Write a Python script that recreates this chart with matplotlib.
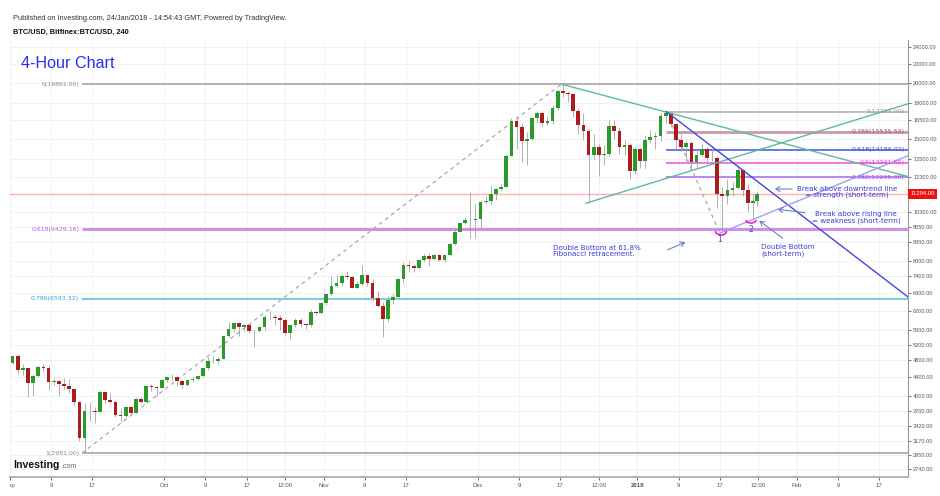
import numpy as np
import matplotlib
matplotlib.use("Agg")
import matplotlib.pyplot as plt
from matplotlib.transforms import Bbox, TransformedBbox, IdentityTransform, blended_transform_factory
from matplotlib.patches import Arc

# ---------------- data (daily candles, day 0 = 2017-09-01) ----------------
opens = [4740, 4900, 4580, 4620, 4280, 4420, 4640, 4620, 4300, 4320, 4250, 4210, 4150, 3880, 3220,
         3700, 3700, 3680, 4080, 3910, 3880, 3620, 3600, 3780, 3670, 3930, 3880, 4200, 4190, 4170,
         4340, 4400, 4400, 4310, 4220, 4330, 4370, 4440, 4610, 4780, 4780, 4830, 5430, 5640, 5830,
         5690, 5750, 5590, 5570, 5700, 6000, 6010, 5980, 5900, 5520, 5750, 5900, 5780, 5750, 6150, 6130,
         6450, 6740, 7030, 7160, 7400, 7380, 6960, 7100, 7450, 7140, 6620, 6360, 5950, 6560, 6640,
         7300, 7820, 7780, 7710, 8040, 8200, 8100, 8250, 8040, 8240, 8750, 9300, 9730, 9900, 9880,
         9950, 10850, 10900, 11300, 11600, 11700, 13700, 16400, 15900, 14800, 15000, 16700, 17100, 16300, 16400,
         17600, 19200, 19000, 18900, 17300, 16100, 15600, 13800, 14400, 13800, 13900, 16000, 15600, 14400, 14500, 12700,
         14200, 13400, 14900, 15100, 15200, 16900, 17100, 16200, 14900, 14400, 14700, 13300, 13800, 14200, 13600,
         13600, 11300, 11200, 11500, 11650, 12800, 11500, 10800, 10900]
highs = [4930, 4950, 4700, 4620, 4480, 4680, 4700, 4680, 4380, 4330, 4380, 4360, 4150, 3900, 3850,
         3880, 3780, 4120, 4100, 4050, 3900, 3750, 3800, 3790, 3960, 3980, 4220, 4250, 4200, 4360,
         4420, 4470, 4420, 4350, 4370, 4420, 4460, 4620, 4880, 4900, 4880, 5450, 5860, 5850, 5850,
         5780, 5770, 5600, 5740, 6050, 6180, 6100, 6050, 5930, 5750, 5980, 5980, 5820, 6250, 6200, 6470,
         6780, 7400, 7460, 7500, 7600, 7400, 7230, 7850, 7460, 7300, 6850, 6480, 6700, 6750, 7350,
         7950, 8000, 7850, 8100, 8280, 8330, 8300, 8280, 8300, 8780, 9500, 9750, 10050, 11400, 10700,
         10950, 11150, 11800, 11650, 11900, 13900, 16700, 16900, 16300, 15500, 16800, 17300, 17300, 16900, 17800,
         19300, 19861, 19200, 19000, 17600, 17100, 15800, 15400, 14600, 14500, 16500, 16500, 15900, 14900, 14700, 14400,
         14300, 15300, 15700, 15500, 17100, 17252, 17200, 16300, 15400, 14900, 14800, 14200, 14600, 14400, 14300,
         13700, 11700, 12200, 12000, 13100, 12850, 11900, 11300, 11450]
lows = [4700, 4480, 4450, 3980, 4000, 4400, 4520, 4130, 4200, 4000, 4150, 4060, 3800, 3180, 2981,
        3520, 3480, 3680, 3830, 3850, 3580, 3500, 3580, 3620, 3660, 3860, 3880, 4110, 4000, 4160,
        4290, 4350, 4200, 4170, 4200, 4300, 4350, 4410, 4560, 4740, 4720, 4830, 5400, 5560, 5450,
        5580, 5520, 5150, 5550, 5620, 5900, 5770, 5600, 5470, 5350, 5700, 5700, 5650, 5700, 6050, 6100,
        6380, 6720, 7000, 7050, 7300, 6950, 6950, 7050, 7050, 6500, 6300, 5400, 5850, 6420, 6640,
        7150, 7580, 7560, 7660, 7950, 7800, 8060, 8000, 7950, 8230, 8700, 9280, 9680, 9000, 9000,
        9500, 10700, 10700, 10950, 11450, 11700, 13700, 14200, 13300, 13100, 14900, 16300, 16000, 16100, 16200,
        17400, 18600, 18100, 16800, 15400, 14900, 10770, 13500, 12400, 13100, 13700, 15000, 13900, 13800, 12200, 12500,
        12900, 12900, 14700, 14200, 14800, 16300, 15900, 14200, 14100, 13300, 12800, 13000, 13700, 13300, 13400,
        10500, 9420, 10700, 11200, 11600, 11200, 10300, 9900, 10600]
closes = [4900, 4580, 4620, 4280, 4420, 4640, 4620, 4300, 4320, 4250, 4210, 4150, 3880, 3220, 3700,
          3700, 3680, 4080, 3910, 3880, 3620, 3600, 3780, 3670, 3930, 3880, 4200, 4190, 4170, 4340,
          4400, 4400, 4310, 4220, 4330, 4370, 4440, 4610, 4780, 4780, 4830, 5430, 5640, 5830, 5690,
          5750, 5590, 5570, 5700, 6000, 6010, 5980, 5900, 5520, 5750, 5900, 5780, 5750, 6150, 6130, 6450,
          6740, 7030, 7160, 7400, 7380, 6960, 7100, 7450, 7140, 6620, 6360, 5950, 6560, 6640, 7300,
          7820, 7780, 7710, 8040, 8200, 8100, 8250, 8040, 8240, 8750, 9300, 9730, 9900, 9880, 9950,
          10850, 10900, 11300, 11600, 11700, 13700, 16400, 15900, 14800, 15000, 16700, 17100, 16300, 16400, 17600,
          19200, 19000, 18900, 17300, 16100, 15600, 13800, 14400, 13800, 13900, 16000, 15600, 14400, 14500, 12700, 14200,
          13400, 14900, 15100, 15200, 16900, 17100, 16200, 14900, 14400, 14700, 13300, 13800, 14200, 13600, 13600,
          11300, 11200, 11500, 11650, 12800, 11500, 10800, 10900, 11294]
last_price = 11294.00

# Fibonacci retracement 1 (Sep low -> Dec high)
fib1_levels = ["0", "0.618", "0.786", "1"]
fib1_values = [19861.00, 9429.16, 6593.32, 2981.00]
fib1_colors = ["#a6a6a6", "#cc8ae8", "#6cbde3", "#a6a6a6"]
fib1_text_colors = ["#8a8a8a", "#b45ee0", "#3aa3db", "#8a8a8a"]
fib1_start_day = 14.0
# Fibonacci retracement 2 (Jan high -> Jan low)
fib2_levels = ["1", "0.786", "0.618", "0.5", "0.382"]
fib2_values = [17252.00, 15535.53, 14186.02, 13241.55, 12295.08]
fib2_colors = ["#b5b5b5", "#c99aa8", "#4a63e6", "#f05cf0", "#b073f0"]
fib2_text_colors = ["#9a9a9a", "#a8506e", "#3a52d6", "#e03ce0", "#9a55e6"]
fib2_start_day = 127.6

# Trend lines: (day, price) pairs
fib1_trend_days, fib1_trend_prices = [14.0, 107.2], [2981.0, 19861.0]
fib2_trend_days, fib2_trend_prices = [127.6, 138.0], [17252.0, 9231.0]
teal_upper_days, teal_upper_prices = [107.2, 174.6], [19861.0, 12350.0]
teal_lower_days, teal_lower_prices = [112.0, 174.6], [10770.0, 17950.0]
down_days, down_prices = [127.6, 174.6], [17252.0, 6650.0]
rise_days, rise_prices = [138.0, 174.6], [9231.0, 13750.0]

# axis ticks
x_tick_days = [0, 8, 16, 30, 38, 46, 53.5, 61, 69, 77, 91, 99, 107, 114.5, 122, 130, 138, 145.5, 153, 161, 169]
x_tick_labels = ["Sep", "9", "17", "Oct", "9", "17", "12:00", "Nov", "9", "17", "Dec", "9", "17", "12:00",
                 "2018", "9", "17", "12:00", "Feb", "9", "17"]
y_ticks = [24000, 22000, 20000, 18000, 16500, 15000, 13500, 12300, 10300, 9550, 8800, 8000, 7400,
           6800, 6200, 5600, 5200, 4800, 4400, 4000, 3700, 3420, 3170, 2950, 2740]

# ---------------- figure ----------------
W, H = 940, 496
fig = plt.figure(figsize=(W / 100, H / 100), dpi=100)
fig.patch.set_facecolor("white")
ax = fig.add_axes([10 / W, 19 / H, 898 / W, 437 / H])
ax.set_yscale("log")
ax.set_xlim(0.03, 174.6)
ax.set_ylim(2636, 24917)

# grid
for xd in x_tick_days:
    ax.axvline(xd, color="#f1f1f1", lw=0.7, zorder=0)
for yv in y_ticks:
    ax.axhline(yv, color="#f1f1f1", lw=0.7, zorder=0)

# candles
o = np.array(opens, float); h = np.array(highs, float)
l = np.array(lows, float); c = np.array(closes, float)
days = np.arange(len(o)) + 0.5
days[-1] = len(o) - 1 + 0.3
ax.vlines(days, l, h, color="#a3a3a3", lw=0.6, zorder=3)
up = c >= o
bw = 0.72
ax.bar(days[up], np.maximum(c[up] - o[up], 5), bottom=o[up], width=bw, color="#2a9a2a", zorder=4, linewidth=0)
ax.bar(days[~up], np.maximum(o[~up] - c[~up], 5), bottom=c[~up], width=bw, color="#ad1c1c", zorder=4, linewidth=0)

# current price line
ax.axhline(last_price, color="#ffb0b0", lw=1.0, zorder=2)

# fib 1
for lev, val, col, tcol in zip(fib1_levels, fib1_values, fib1_colors, fib1_text_colors):
    lw = 2.0 if lev in ("0.618",) else 1.2
    ax.plot([fib1_start_day, 174.6], [val, val], color=col, lw=lw, zorder=2, solid_capstyle="butt")
    ax.annotate(f"{lev}({val:.2f})", xy=(fib1_start_day, val), xytext=(-2, 0), textcoords="offset points",
                ha="right", va="center", fontsize=4.5, color=tcol, family="DejaVu Sans")
ax.plot(fib1_trend_days, fib1_trend_prices, color="#a8a8a8", lw=0.9, ls=(0, (3, 3)), zorder=2)

# fib 2
for lev, val, col, tcol in zip(fib2_levels, fib2_values, fib2_colors, fib2_text_colors):
    lw = 2.0 if lev == "0.786" else 1.2
    ax.plot([fib2_start_day, 174.6], [val, val], color=col, lw=lw, zorder=2, solid_capstyle="butt")
    ax.annotate(f"{lev}({val:.2f})", xy=(174.6, val), xytext=(-2.5, 0), textcoords="offset points",
                ha="right", va="center", fontsize=4.6, color=tcol, family="DejaVu Sans", zorder=6)
ax.plot(fib2_trend_days, fib2_trend_prices, color="#a8a8a8", lw=0.9, ls=(0, (3, 3)), zorder=2)

# trend lines
ax.plot(teal_upper_days, teal_upper_prices, color="#5dbb9e", lw=1.0, zorder=5)
ax.plot(teal_lower_days, teal_lower_prices, color="#5dbb9e", lw=1.0, zorder=5)
ax.plot(down_days, down_prices, color="#4545dd", lw=1.0, zorder=5)
ax.plot(rise_days, rise_prices, color="#a0a0f0", lw=1.0, zorder=5)

# axes styling
ax.yaxis.tick_right()
ax.set_yticks(y_ticks)
ax.set_yticklabels([f"{v:.2f}" for v in y_ticks])
ax.yaxis.set_minor_locator(matplotlib.ticker.NullLocator())
ax.set_xticks(x_tick_days)
ax.set_xticklabels(x_tick_labels)
ax.tick_params(axis="y", labelsize=4.1, colors="#555555", length=2.5, width=0.6, pad=1.2, labelcolor="#555555")
ax.tick_params(axis="x", labelsize=4.3, colors="#555555", length=2, width=0.6, pad=2.5, labelcolor="#555555")
for lbl in ax.get_xticklabels() + ax.get_yticklabels():
    lbl.set_family("Liberation Sans")
for lbl in ax.get_xticklabels():
    if lbl.get_text() == "2018":
        lbl.set_fontweight("bold")
    if lbl.get_text() == "Sep":
        lbl.set_clip_on(True)
        lbl.set_clip_box(TransformedBbox(Bbox([[0, -1], [1, 1]]), ax.transAxes))
for s in ("top", "left"):
    ax.spines[s].set_visible(False)
ax.spines["right"].set_color("#9a9a9a")
ax.spines["right"].set_linewidth(0.8)
ax.spines["bottom"].set_color("#b5b5b5")
ax.spines["bottom"].set_linewidth(1.4)

# price label box
trans = blended_transform_factory(ax.transAxes, ax.transData)
ax.text(1.003, last_price, f"{last_price:.2f}", transform=trans, ha="left", va="center", fontsize=4.2,
        color="white", family="Liberation Sans",
        bbox=dict(boxstyle="square,pad=0.4", facecolor="#ee1111", edgecolor="none"), clip_on=False, zorder=10)

# ---------------- text & annotations (figure pixels, origin top-left) ----------------
def P(x, y):
    return (x, H - y)

fig.text(13 / W, 1 - 19 / H, "Published on Investing.com, 24/Jan/2018 - 14:54:43 GMT, Powered by TradingView.",
         fontsize=5.3, color="#333333", family="Liberation Sans", va="center")
fig.text(13 / W, 1 - 32 / H, "BTC/USD, Bitfinex:BTC/USD, 240", fontsize=5.3, color="#111111",
         family="Liberation Sans", fontweight="bold", va="center")
fig.text(21 / W, 1 - 64 / H, "4-Hour Chart", fontsize=11.6, color="#2b2bf5", family="Liberation Sans", va="center")
fig.text(13 / W, 1 - 465 / H, "Investing", fontsize=7.6, color="#111111", family="Liberation Sans",
         fontweight="bold", va="center")
fig.text(61 / W, 1 - 466 / H, ".com", fontsize=5.0, color="#666666", family="Liberation Sans", va="center")

ann_col = "#3a3ae0"
arrow_col = "#6b7fcc"
afs = 5.1
fig.text(847 / W, 1 - 192 / H, "Break above downtrend line\n= strength (short-term)", fontsize=afs,
         color=ann_col, ha="center", va="center", multialignment="center", family="DejaVu Sans", linespacing=1.05)
fig.text(856 / W, 1 - 217.5 / H, "Break above rising line\n= weakness (short-term)", fontsize=afs,
         color=ann_col, ha="center", va="center", multialignment="center", family="DejaVu Sans", linespacing=1.05)
fig.text(761 / W, 1 - 250.5 / H, "Double Bottom\n(short-term)", fontsize=afs,
         color=ann_col, ha="left", va="center", family="DejaVu Sans", linespacing=1.05)
fig.text(553 / W, 1 - 251 / H, "Double Bottom at 61.8%\nFibonacci retracement.", fontsize=afs,
         color=ann_col, ha="left", va="center", family="DejaVu Sans", linespacing=1.05)
fig.text(720 / W, 1 - 240 / H, "1", fontsize=5.5, color=ann_col, ha="center", va="center", family="DejaVu Sans")
fig.text(751 / W, 1 - 230 / H, "2", fontsize=5.5, color=ann_col, ha="center", va="center", family="DejaVu Sans")

arrows = [((795, 189), (772, 189)), ((808, 213), (775, 209)), ((785, 240), (757, 219)), ((665, 251), (688, 241))]
for tail, head in arrows:
    fig.add_artist(matplotlib.patches.FancyArrowPatch(P(*tail), P(*head), transform=IdentityTransform(),
                                                      arrowstyle="->,head_length=3,head_width=1.8",
                                                      color=arrow_col, lw=0.8))

for (cx, cy, w, hh) in [(721, 231, 11, 8), (751, 220, 10, 6)]:
    fig.add_artist(Arc(P(cx, cy), w, hh, theta1=180, theta2=360, transform=IdentityTransform(),
                       color="#ee22cc", lw=1.2))

fig.savefig("out.png", dpi=100, facecolor="white")
